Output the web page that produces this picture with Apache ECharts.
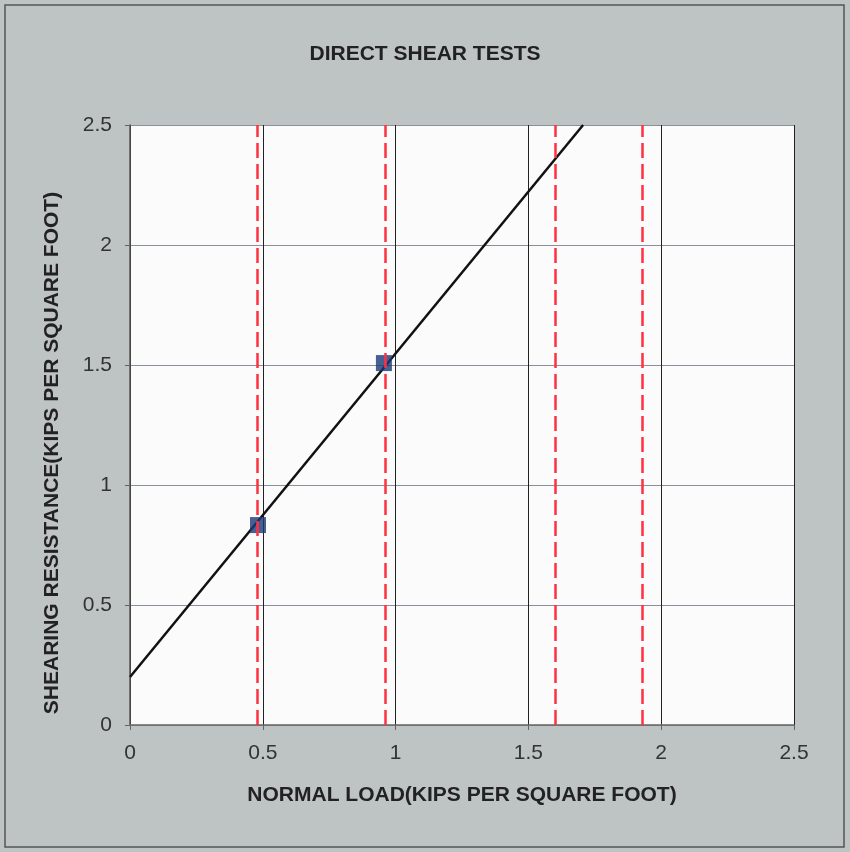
<!DOCTYPE html>
<html>
<head>
<meta charset="utf-8">
<script src="https://cdn.jsdelivr.net/npm/echarts@6/dist/echarts.min.js"></script>
<style>
  html, body { margin: 0; padding: 0; background: #ffffff; }
  #chart { width: 850px; height: 852px; }
</style>
</head>
<body>
<div id="chart"></div>
<script>
  // test points (normal load, shearing resistance)
  var testPoints = [[0.482, 0.833], [0.956, 1.508]];
  // fitted failure envelope
  var envelope = [[0, 0.2], [1.706, 2.5]];
  // dashed verticals at the normal loads
  var dashedX = [0.482, 0.96, 1.6, 1.928];
  var axisTicks = [0, 0.5, 1, 1.5, 2, 2.5];

  var chart = echarts.init(document.getElementById('chart'));
  var option = {
    backgroundColor: '#bec4c3',
    animation: false,
    title: {
      text: 'DIRECT SHEAR TESTS',
      left: 'center',
      top: 39,
      textStyle: { fontFamily: 'Liberation Sans', fontSize: 21, fontWeight: 'bold', color: '#222' }
    },
    graphic: [{
      type: 'rect',
      shape: { x: 5, y: 5, width: 839, height: 842 },
      style: { fill: 'none', stroke: '#555', lineWidth: 1.5 },
      silent: true
    }],
    grid: {
      left: 130, right: 56, top: 125, bottom: 127,
      show: true, backgroundColor: '#fbfbfb', borderWidth: 0
    },
    xAxis: {
      type: 'value', min: 0, max: 2.5, interval: 0.5,
      name: 'NORMAL LOAD(KIPS PER SQUARE FOOT)',
      nameLocation: 'middle', nameGap: 60,
      nameTextStyle: { fontFamily: 'Liberation Sans', fontSize: 21, fontWeight: 'bold', color: '#222' },
      axisLine: { show: true, lineStyle: { color: '#666', width: 1.5 } },
      axisTick: { show: true, length: 5, lineStyle: { color: '#666' } },
      axisLabel: {
        fontFamily: 'Liberation Sans', fontSize: 21, color: '#333', margin: 18,
        formatter: function (v) { return axisTicks.indexOf(v) >= 0 ? String(v) : ''; }
      },
      splitLine: { show: true, lineStyle: { color: '#222', width: 1 } }
    },
    yAxis: {
      type: 'value', min: 0, max: 2.5, interval: 0.5,
      name: 'SHEARING RESISTANCE(KIPS PER SQUARE FOOT)',
      nameLocation: 'middle', nameGap: 67,
      nameTextStyle: {
        fontFamily: 'Liberation Sans', fontSize: 21, fontWeight: 'bold', color: '#222',
        padding: [0, 56, 0, 0]
      },
      axisLine: { show: true, lineStyle: { color: '#555', width: 1.5 } },
      axisTick: { show: true, length: 5, lineStyle: { color: '#666' } },
      axisLabel: { fontFamily: 'Liberation Sans', fontSize: 21, color: '#333', margin: 18 },
      splitLine: { show: true, lineStyle: { color: '#8a9099', width: 1 } }
    },
    series: [
      {
        type: 'line',
        data: envelope,
        symbol: 'none',
        lineStyle: { color: '#111', width: 2.5 },
        z: 3,
        markLine: {
          silent: true,
          symbol: 'none',
          label: { show: false },
          lineStyle: { color: '#ff3040', width: 2.5, type: [15, 6] },
          data: dashedX.map(function (x) { return { xAxis: x }; })
        }
      },
      {
        type: 'scatter',
        data: testPoints,
        symbol: 'rect',
        symbolSize: 16,
        itemStyle: { color: '#1c3878' },
        z: 4
      }
    ]
  };
  chart.setOption(option);
</script>
</body>
</html>
